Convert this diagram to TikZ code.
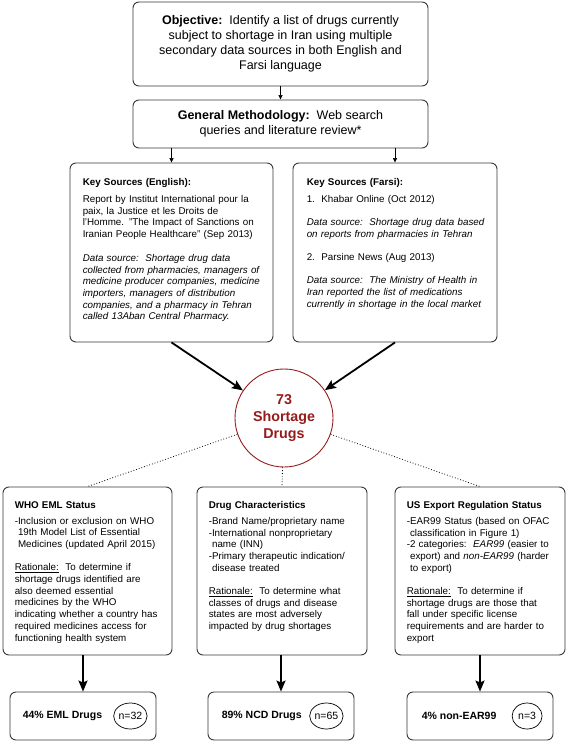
\documentclass[tikz,border=0pt]{standalone}
\usepackage{fontspec}
\setmainfont{Liberation Sans}
\usetikzlibrary{arrows.meta, positioning, shapes.geometric}

\definecolor{circred}{RGB}{150,28,28}
\definecolor{boxline}{RGB}{55,55,55}
\newcommand{\indentbreak}{\\\hspace*{3.3pt}}

\tikzset{
	mainbox/.style={draw=boxline, line width=0.9pt, rounded corners=6pt, minimum width=295pt, align=center, font=\fontsize{12.5}{15}\selectfont},
	srcbox/.style={draw=boxline, line width=0.9pt, rounded corners=6pt},
	srctext/.style={inner sep=0pt, anchor=north west, align=left, font=\fontsize{9.8}{11.7}\selectfont},
	resbox/.style={draw=boxline, line width=0.9pt, rounded corners=6pt, minimum width=146pt, minimum height=48pt},
	restext/.style={inner sep=0pt, font=\bfseries\fontsize{10.5}{12}\selectfont},
	nell/.style={ellipse, draw=black, line width=0.7pt, inner sep=0pt, minimum width=30pt, minimum height=26pt, font=\fontsize{10.5}{12}\selectfont},
	thinarrow/.style={-{Triangle[length=4.5pt, width=4pt]}, line width=0.7pt},
	bigarrow/.style={-{Stealth[length=11pt, width=9pt, inset=2pt]}, line width=1.8pt},
	dots/.style={dotted, line width=0.8pt}
}

\begin{document}
\begin{tikzpicture}[x=1pt, y=-1pt]
	\useasboundingbox (0,0) rectangle (567,743);

	\node[mainbox, minimum height=84pt](obj) at (280.5,44) {\textbf{Objective:}\ \ Identify a list of drugs currently\\subject to shortage in Iran using multiple\\secondary data sources in both English and\\Farsi language};
	\node[mainbox, minimum height=48pt](gm) at (280.5,124) {\textbf{General Methodology:}\ \ Web search\\queries and literature review*};

	\node[srcbox, minimum width=203pt, minimum height=179pt](eng) at (171.5,252.5) {};
	\node[srcbox, minimum width=204pt, minimum height=179pt](fars) at (395,252.5) {};
	\node[srctext, text width=188pt](engtxt) at ([xshift=13pt, yshift=-16pt]eng.north west) {\textbf{Key Sources (English):}\par\vspace{5pt}
		Report by Institut International pour la\\paix, la Justice et les Droits de\\l'Homme. "The Impact of Sanctions on\\Iranian People Healthcare" (Sep 2013)\par\vspace{12pt}
		{\itshape Data source:\ \ Shortage drug data\\collected from pharmacies, managers of\\medicine producer companies, medicine\\importers, managers of distribution\\companies, and a pharmacy in Tehran\\called 13Aban Central Pharmacy.}};
	\node[srctext, text width=188pt](farstxt) at ([xshift=14pt, yshift=-16pt]fars.north west) {\textbf{Key Sources (Farsi):}\par\vspace{5pt}
		1.\ \ Khabar Online (Oct 2012)\par\vspace{11.5pt}
		{\itshape Data source:\ \ Shortage drug data based\\on reports from pharmacies in Tehran}\par\vspace{11.5pt}
		2.\ \ Parsine News (Aug 2013)\par\vspace{11.5pt}
		{\itshape Data source:\ \ The Ministry of Health in\\Iran reported the list of medications\\currently in shortage in the local market}};

	\node[circle, draw=circred, line width=0.9pt, minimum size=98pt, align=center, text=circred, font=\bfseries\fontsize{14.3}{16.7}\selectfont](circ) at (284,418) {73\\Shortage\\Drugs};

	\node[srcbox, minimum width=169pt, minimum height=168pt](who) at (87.5,571) {};
	\node[srcbox, minimum width=170pt, minimum height=168pt](drug) at (282,571) {};
	\node[srcbox, minimum width=170pt, minimum height=168pt](us) at (480,571) {};
	\node[srctext, text width=156pt](whotxt) at ([xshift=12pt, yshift=-15pt]who.north west) {\textbf{WHO EML Status}\par\vspace{4pt}
		-Inclusion or exclusion on WHO\indentbreak 19th Model List of Essential\indentbreak Medicines (updated April 2015)\par\vspace{11.5pt}
		\underline{Rationale:}\ \ To determine if\\shortage drugs identified are\\also deemed essential\\medicines by the WHO\\indicating whether a country has\\required medicines access for\\functioning health system};
	\node[srctext, text width=156pt](drugtxt) at ([xshift=12pt, yshift=-15pt]drug.north west) {\textbf{Drug Characteristics}\par\vspace{4pt}
		-Brand Name/proprietary name\\
		-International nonproprietary\indentbreak name (INN)\\
		-Primary therapeutic indication/\indentbreak disease treated\par\vspace{11.5pt}
		\underline{Rationale:}\ \ To determine what\\classes of drugs and disease\\states are most adversely\\impacted by drug shortages};
	\node[srctext, text width=156pt](ustxt) at ([xshift=12pt, yshift=-15pt]us.north west) {\textbf{US Export Regulation Status}\par\vspace{4pt}
		-EAR99 Status (based on OFAC\indentbreak classification in Figure 1)\\
		-2 categories:\ \ \textit{EAR99} (easier to\indentbreak export) and \textit{non-EAR99} (harder\indentbreak to export)\par\vspace{11.5pt}
		\underline{Rationale:}\ \ To determine if\\shortage drugs are those that\\fall under specific license\\requirements and are harder to\\export};

	\node[resbox](eml) at (83,716) {};
	\node[resbox](ncd) at (281,716) {};
	\node[resbox](ear) at (480,716) {};
	\node[restext, anchor=west, right=13pt of eml.west](emltxt) {44\% EML Drugs};
	\node[restext, anchor=west, right=14pt of ncd.west](ncdtxt) {89\% NCD Drugs};
	\node[restext, anchor=west, right=15pt of ear.west](eartxt) {4\% non-EAR99};
	\node[nell, left=9pt of eml.east](emln) {n=32};
	\node[nell, left=11pt of ncd.east](ncdn) {n=65};
	\node[nell, left=11pt of ear.east](earn) {n=3};

	\draw[thinarrow](obj) -- (gm);
	\draw[thinarrow](gm.south -| eng.north) -- (eng.north);
	\draw[thinarrow](gm.south -| fars.north) -- (fars.north);

	\draw[bigarrow](eng.south) -- (circ);
	\draw[bigarrow](fars.south) -- (circ);

	\draw[dots](circ) -- (who.north);
	\draw[dots](circ) -- (drug.north);
	\draw[dots](circ) -- (us.north);

	\draw[bigarrow](eml.north |- who.south) -- (eml.north);
	\draw[bigarrow](ncd.north |- drug.south) -- (ncd.north);
	\draw[bigarrow](ear.north |- us.south) -- (ear.north);
\end{tikzpicture}
\end{document}
